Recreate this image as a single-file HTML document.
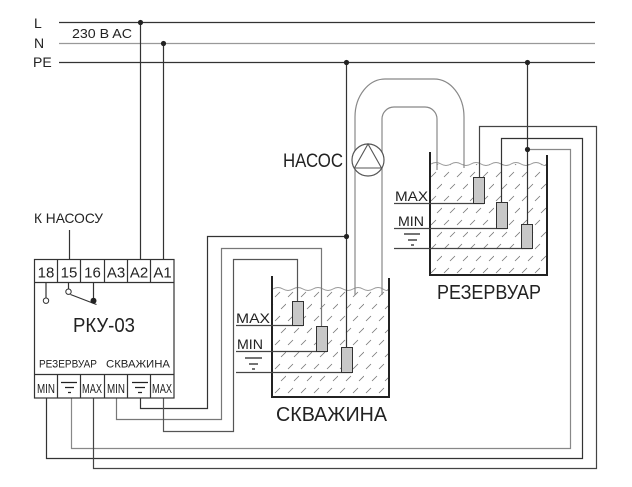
<!DOCTYPE html>
<html><head><meta charset="utf-8">
<style>
html,body{margin:0;padding:0;background:#fff;}
svg{display:block;}
text{font-family:"Liberation Sans","Noto Sans CJK SC",sans-serif;fill:#222;}
</style></head>
<body>
<svg width="632" height="487" viewBox="0 0 632 487" xmlns="http://www.w3.org/2000/svg">
<defs>
<pattern id="h" width="26" height="24" patternUnits="userSpaceOnUse">
<path d="M2 9 L7 4 M15 9 L20 4 M8 21 L13 16 M21 21 L26 16" stroke="#777" stroke-width="0.8" fill="none"/>
</pattern>
</defs>

<!-- supply lines -->
<g fill="none" stroke-width="1.3">
<path d="M59 22.5 H595" stroke="#333"/>
<path d="M59 43.5 H595" stroke="#999"/>
<path d="M59 62.5 H595" stroke="#333"/>
</g>
<text x="34" y="28" font-size="14">L</text>
<text x="34" y="48" font-size="14">N</text>
<text x="33" y="67" font-size="14">PE</text>
<text x="72" y="38" font-size="13" textLength="60" lengthAdjust="spacingAndGlyphs">230 B AC</text>

<!-- water fills -->
<rect x="273" y="289" width="115" height="107" fill="url(#h)"/>
<rect x="431" y="164" width="115" height="110" fill="url(#h)"/>
<path d="M273 289 q5 -3 10 0 t10 0 t10 0 t10 0 t10 0 t10 0 t10 0 t10 0 t10 0 t10 0 t10 0 t5 0" fill="none" stroke="#999" stroke-width="1"/>
<path d="M431 164 q5 -3 10 0 t10 0 t10 0 t10 0 t10 0 t10 0 t10 0 t10 0 t10 0 t10 0 t10 0 t5 0" fill="none" stroke="#999" stroke-width="1"/>

<!-- pipe -->
<g fill="none" stroke="#888" stroke-width="1.2">
<path d="M355 295 V117 A30 38 0 0 1 385 79 H434 A30 38 0 0 1 464 117 V168"/>
<path d="M382 295 V119 A12 12 0 0 1 394 107 H425 A12 12 0 0 1 437 119 V170"/>
</g>

<!-- pump -->
<circle cx="368" cy="160" r="16" fill="#fff" stroke="#555" stroke-width="1.2"/>
<path d="M368 144 L354.5 168 L381.5 168 Z" fill="none" stroke="#555" stroke-width="1.1"/>
<text x="283" y="167" font-size="19" textLength="60" lengthAdjust="spacingAndGlyphs">НАСОС</text>

<!-- tanks -->
<g fill="none" stroke="#222" stroke-width="2">
<path d="M272 276 V397 H389 V278"/>
<path d="M430 152 V275 H547 V155"/>
</g>

<!-- level lines -->
<g stroke="#444" stroke-width="1.2" fill="none">
<path d="M236 325.5 H303"/>
<path d="M236 351.5 H327"/>
<path d="M236 372.5 H352"/>
<path d="M394 203.5 H484"/>
<path d="M394 228.5 H507"/>
<path d="M394 248.5 H532"/>
</g>

<!-- control wires -->
<g fill="none" stroke-width="1.2">
<path d="M140.5 22 V259" stroke="#333"/>
<path d="M163.5 43 V259" stroke="#333"/>
<path d="M69.5 230 V259" stroke="#333"/>
<path d="M346.5 62 V347" stroke="#333"/>
<path d="M346.5 236.5 H207.5 V408.5 H140.5 V398" stroke="#333"/>
<path d="M321.5 326 V248.5 H221.5 V419.5 H116.5 V398" stroke="#777"/>
<path d="M297.5 301 V259.5 H233.5 V431.5 H163.5 V398" stroke="#555"/>
<path d="M527.5 62 V224" stroke="#333"/>
<path d="M527.5 149.5 H570.5 V448.5 H71.5 V398" stroke="#888"/>
<path d="M501.5 202 V138.5 H582.5 V458.5 H46.5 V398" stroke="#333"/>
<path d="M479.5 177 V126.5 H596.5 V468.5 H93.5 V398" stroke="#444"/>
</g>

<!-- sensors -->
<g fill="#c8c8c8" stroke="#333" stroke-width="1">
<rect x="292.5" y="301.5" width="11" height="24"/>
<rect x="316.5" y="326.5" width="11" height="25"/>
<rect x="341.5" y="347.5" width="11" height="25"/>
<rect x="473.5" y="177.5" width="11" height="26"/>
<rect x="496.5" y="202.5" width="11" height="26"/>
<rect x="521.5" y="224.5" width="11" height="24"/>
</g>

<!-- dots -->
<g fill="#222">
<circle cx="140.5" cy="22.5" r="2.6"/>
<circle cx="163.5" cy="43.5" r="2.6"/>
<circle cx="346.5" cy="62.5" r="2.6"/>
<circle cx="527.5" cy="62.5" r="2.6"/>
<circle cx="346.5" cy="236.5" r="2.6"/>
<circle cx="527.5" cy="149.5" r="2.6"/>
</g>

<!-- level labels -->
<text x="236" y="323" font-size="14" textLength="34" lengthAdjust="spacingAndGlyphs">MAX</text>
<text x="237" y="349" font-size="14" textLength="26" lengthAdjust="spacingAndGlyphs">MIN</text>
<g stroke="#222" stroke-width="1.3">
<path d="M245 358 H262 M249 364 H258 M252 369 H255"/>
<path d="M404 234 H420 M408 240 H417 M411 245 H414"/>
</g>
<text x="395" y="201" font-size="14" textLength="33" lengthAdjust="spacingAndGlyphs">MAX</text>
<text x="398" y="226" font-size="14" textLength="26" lengthAdjust="spacingAndGlyphs">MIN</text>

<text x="276" y="421" font-size="20" textLength="111" lengthAdjust="spacingAndGlyphs">СКВАЖИНА</text>
<text x="437" y="299" font-size="20" textLength="104" lengthAdjust="spacingAndGlyphs">РЕЗЕРВУАР</text>

<!-- relay -->
<text x="34" y="223" font-size="14" textLength="69" lengthAdjust="spacingAndGlyphs">К НАСОСУ</text>
<g fill="none" stroke="#333" stroke-width="1.2">
<rect x="34.5" y="259.5" width="139.5" height="138.5" fill="#fff"/>
<path d="M34.5 282.5 H174 M34.5 374.5 H174"/>
<path d="M57.5 259.5 V282.5 M80.5 259.5 V282.5 M104.5 259.5 V282.5 M127.5 259.5 V282.5 M150.5 259.5 V282.5"/>
<path d="M57.5 374.5 V398 M80.5 374.5 V398 M104.5 374.5 V398 M127.5 374.5 V398 M150.5 374.5 V398"/>
<path d="M46 282.5 V298 M68.5 282.5 V289 M93.5 282.5 V300"/>
<path d="M70.5 294.5 L96.5 304.5"/>
</g>
<circle cx="46" cy="300.7" r="2.7" fill="#fff" stroke="#333" stroke-width="1"/>
<circle cx="68.5" cy="291.7" r="2.7" fill="#fff" stroke="#333" stroke-width="1"/>
<circle cx="93.5" cy="300.7" r="3" fill="#222"/>

<g font-size="15">
<text x="46" y="277.5" text-anchor="middle">18</text>
<text x="69" y="277.5" text-anchor="middle">15</text>
<text x="92.5" y="277.5" text-anchor="middle">16</text>
<text x="116" y="277.5" text-anchor="middle">A3</text>
<text x="139" y="277.5" text-anchor="middle">A2</text>
<text x="162.5" y="277.5" text-anchor="middle">A1</text>
</g>
<text x="73" y="332" font-size="20" textLength="62" lengthAdjust="spacingAndGlyphs">РКУ-03</text>
<text x="39" y="367.5" font-size="11" textLength="58" lengthAdjust="spacingAndGlyphs">РЕЗЕРВУАР</text>
<text x="106" y="367.5" font-size="11" textLength="64" lengthAdjust="spacingAndGlyphs">СКВАЖИНА</text>

<g font-size="13">
<text x="37" y="393" textLength="18" lengthAdjust="spacingAndGlyphs">MIN</text>
<text x="82" y="393" textLength="20" lengthAdjust="spacingAndGlyphs">MAX</text>
<text x="107" y="393" textLength="18" lengthAdjust="spacingAndGlyphs">MIN</text>
<text x="152" y="393" textLength="20" lengthAdjust="spacingAndGlyphs">MAX</text>
</g>
<g stroke="#222" stroke-width="1.2">
<path d="M61 382.5 H77 M65 387.5 H74 M68 392.5 H71"/>
<path d="M132 382.5 H148 M135 387.5 H145 M138 392.5 H142"/>
</g>
</svg>
</body></html>
